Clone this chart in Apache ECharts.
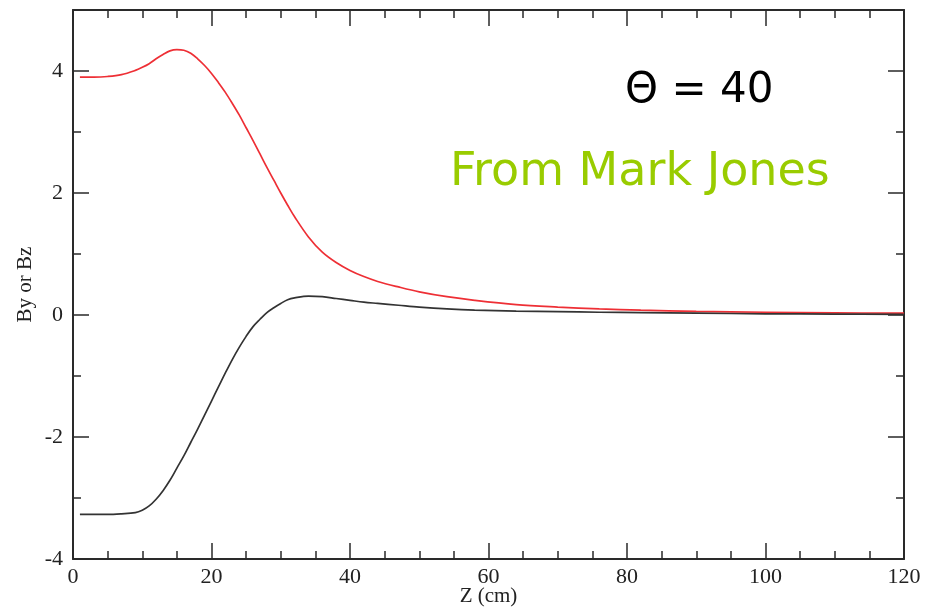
<!DOCTYPE html>
<html>
<head>
<meta charset="utf-8">
<script src="https://cdn.jsdelivr.net/npm/echarts@6/dist/echarts.min.js"></script>
<style>
html,body{margin:0;padding:0;background:#fff;}
#chart{width:939px;height:608px;}
</style>
</head>
<body>
<div id="chart"></div>
<script>
// Z positions (cm)
var zValues = [1,3,5,7,9,10,11,12,13,14,15,16,17,18,19,20,21,22,23,24,25,26,27,28,29,30,31,32,34,36,38,40,42,44,47,50,54,58,64,70,76,82,90,100,110,120];
// red curve
var redValues = [3.90,3.90,3.91,3.94,4.01,4.06,4.12,4.20,4.27,4.33,4.35,4.34,4.29,4.20,4.09,3.96,3.81,3.65,3.47,3.28,3.07,2.86,2.64,2.42,2.21,2.00,1.80,1.61,1.28,1.03,0.86,0.73,0.63,0.55,0.46,0.38,0.30,0.24,0.17,0.13,0.10,0.08,0.06,0.045,0.035,0.03];
// black curve
var blackValues = [-3.27,-3.27,-3.27,-3.26,-3.24,-3.20,-3.13,-3.02,-2.88,-2.71,-2.51,-2.31,-2.09,-1.87,-1.64,-1.41,-1.18,-0.95,-0.73,-0.53,-0.35,-0.19,-0.07,0.04,0.12,0.19,0.25,0.28,0.31,0.30,0.27,0.24,0.21,0.19,0.16,0.13,0.10,0.08,0.065,0.055,0.045,0.04,0.03,0.02,0.015,0.01];
var yMajorTicks = [-4,-2,0,2,4];
var yMinorTicks = [-3,-1,1,3];
var xTitle = 'Z (cm)';
var yTitle = 'By or Bz';
var note1 = 'Θ = 40';
var note2 = 'From Mark Jones';

function pairs(xs, ys){ return xs.map(function(x,i){ return [x, ys[i]]; }); }

var axisColor = '#2a2a2a';
var labelFont = {fontFamily:'Liberation Serif', fontSize:22, color:'#222'};

function xAx(pos, showLabel){
  return {
    type:'value', position:pos, min:0, max:120, interval:20,
    name: showLabel ? xTitle : '', nameLocation:'middle', nameGap:27, nameMoveOverlap:false,
    nameTextStyle:{fontFamily:'Liberation Serif', fontSize:21, color:'#222'},
    axisLine:{show:true, onZero:false, lineStyle:{color:axisColor, width:2}},
    axisTick:{show:true, inside:true, length:16, lineStyle:{color:axisColor, width:1.5}},
    minorTick:{show:true, splitNumber:4, length:8, lineStyle:{color:axisColor, width:1.5}},
    axisLabel:Object.assign({show:showLabel, margin:7}, labelFont),
    splitLine:{show:false}
  };
}
function yAx(pos, major, showLabel, showLine){
  return {
    type:'value', position:pos, min:-4, max:5,
    name: showLabel ? yTitle : '', nameLocation:'middle', nameGap:37, nameMoveOverlap:false,
    nameTextStyle:{fontFamily:'Liberation Serif', fontSize:21, color:'#222'},
    axisLine:{show:showLine, onZero:false, lineStyle:{color:axisColor, width:2}},
    axisTick:{show:true, inside:true, length: major ? 16 : 8, customValues: major ? yMajorTicks : yMinorTicks, lineStyle:{color:axisColor, width:1.5}},
    axisLabel:Object.assign({show:showLabel, margin:10, customValues:yMajorTicks}, labelFont),
    splitLine:{show:false}
  };
}

var chart = echarts.init(document.getElementById('chart'), null, {renderer:'canvas'});
chart.setOption({
  animation:false,
  backgroundColor:'#fff',
  grid:{left:73, right:35, top:10, bottom:49, containLabel:false, outerBoundsMode:'none'},
  xAxis:[xAx('bottom', true), xAx('top', false)],
  yAxis:[yAx('left', true, true, true), yAx('right', true, false, true), yAx('left', false, false, false), yAx('right', false, false, false)],
  series:[
    {type:'line', name:'red', data:pairs(zValues, redValues), xAxisIndex:0, yAxisIndex:0, showSymbol:false, smooth:0.35, lineStyle:{color:'#ee2f35', width:1.7}},
    {type:'line', name:'black', data:pairs(zValues, blackValues), xAxisIndex:0, yAxisIndex:0, showSymbol:false, smooth:0.35, lineStyle:{color:'#333', width:1.7}}
  ],
  graphic:[
    {type:'text', left:625, top:70, style:{text:note1, fontFamily:'DejaVu Sans', fontSize:42, fill:'#000'}},
    {type:'text', left:450, top:150, style:{text:note2, fontFamily:'DejaVu Sans', fontSize:46, fill:'#99cc00'}}
  ]
});
</script>
</body>
</html>
